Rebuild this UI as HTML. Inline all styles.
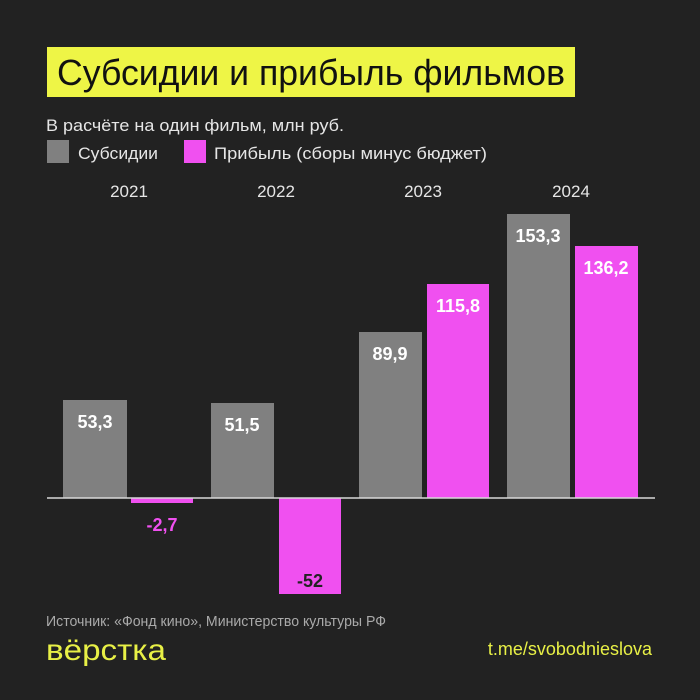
<!DOCTYPE html>
<html><head><meta charset="utf-8"><style>
body{margin:0;background:#222;}
svg{display:block}
text{font-family:"Liberation Sans","DejaVu Sans",sans-serif}
</style></head><body>
<svg width="700" height="700" viewBox="0 0 700 700">
<rect width="700" height="700" fill="#222"/>
<rect x="47" y="47" width="528" height="50" fill="#eef546"/>
<text x="57" y="85" font-size="36" fill="#111" textLength="508" lengthAdjust="spacingAndGlyphs">Субсидии и прибыль фильмов</text>
<text x="46" y="131" font-size="17" fill="#e6e6e6" textLength="298" lengthAdjust="spacingAndGlyphs">В расчёте на один фильм, млн руб.</text>
<rect x="47" y="140" width="22" height="23" fill="#808080"/>
<text x="78" y="159" font-size="17" fill="#e6e6e6" textLength="80" lengthAdjust="spacingAndGlyphs">Субсидии</text>
<rect x="184" y="140" width="22" height="23" fill="#f050f0"/>
<text x="214" y="159" font-size="17" fill="#e6e6e6" textLength="273" lengthAdjust="spacingAndGlyphs">Прибыль (сборы минус бюджет)</text>
<g font-size="17" fill="#e6e6e6" text-anchor="middle">
<text x="129" y="197">2021</text><text x="276" y="197">2022</text><text x="423" y="197">2023</text><text x="571" y="197">2024</text>
</g>
<g fill="#808080">
<rect x="63" y="400" width="64" height="98"/>
<rect x="211" y="403" width="63" height="95"/>
<rect x="359" y="332" width="63" height="166"/>
<rect x="507" y="214" width="63" height="284"/>
</g>
<g fill="#f050f0">
<rect x="131" y="498" width="62" height="5"/>
<rect x="279" y="498" width="62" height="96"/>
<rect x="427" y="284" width="62" height="214"/>
<rect x="575" y="246" width="63" height="252"/>
</g>
<line x1="47" y1="498" x2="655" y2="498" stroke="#d8d8d8" stroke-width="1.5"/>
<g font-size="18" font-weight="bold" fill="#fff" text-anchor="middle">
<text x="95" y="428">53,3</text>
<text x="242" y="431">51,5</text>
<text x="390" y="360">89,9</text>
<text x="458" y="312">115,8</text>
<text x="538" y="242">153,3</text>
<text x="606" y="274">136,2</text>
<text x="162" y="531" fill="#f050f0">-2,7</text>
<text x="310" y="587" fill="#222">-52</text>
</g>
<text x="46" y="626" font-size="15" fill="#aaa" textLength="340" lengthAdjust="spacingAndGlyphs">Источник: «Фонд кино», Министерство культуры РФ</text>
<text x="46" y="660" font-size="30" fill="#e8f046" textLength="120" lengthAdjust="spacingAndGlyphs">вёрстка</text>
<text x="652" y="655" font-size="18" fill="#e8f046" text-anchor="end">t.me/svobodnieslova</text>
</svg>
</body></html>
